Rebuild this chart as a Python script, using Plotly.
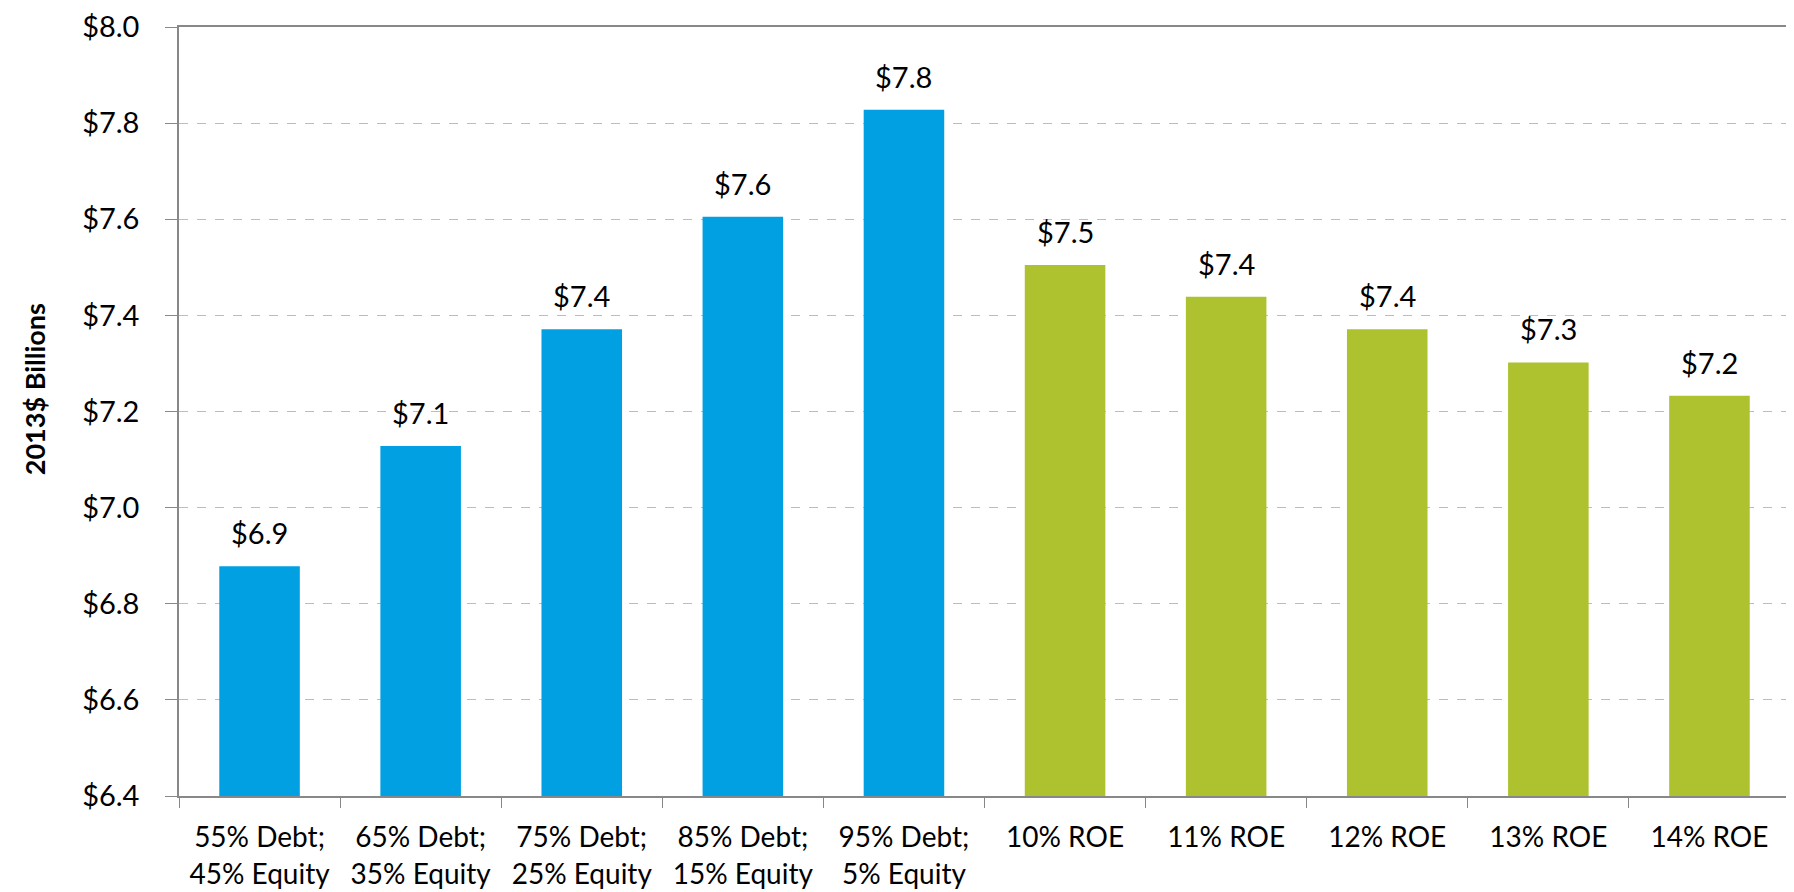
import plotly.graph_objects as go

categories = ["55% Debt;<br>45% Equity", "65% Debt;<br>35% Equity", "75% Debt;<br>25% Equity",
              "85% Debt;<br>15% Equity", "95% Debt;<br>5% Equity",
              "10% ROE", "11% ROE", "12% ROE", "13% ROE", "14% ROE"]
values = [6.878, 7.128, 7.371, 7.605, 7.828, 7.505, 7.439, 7.371, 7.302, 7.233]
colors = ["#00A0E2"] * 5 + ["#ADC22E"] * 5
y_ticks = [6.4, 6.6, 6.8, 7.0, 7.2, 7.4, 7.6, 7.8, 8.0]
y_ticktext = ["$%.1f" % v for v in y_ticks]

FONT = "Lato, 'Open Sans', sans-serif"

fig = go.Figure(go.Bar(
    x=categories, y=values,
    marker=dict(color=colors, line=dict(width=0)),
    hoverinfo="y",
))

for c, v in zip(categories, values):
    fig.add_annotation(x=c, y=v, text="$%.1f" % v, showarrow=False,
                       yanchor="bottom", yshift=14,
                       font=dict(size=29, color="#000000", family=FONT))

fig.add_annotation(xref="paper", yref="paper", x=-0.09, y=0.529,
                   xanchor="center", yanchor="middle",
                   text="<b>2013$ Billions</b>", textangle=-90, showarrow=False,
                   font=dict(size=27, color="#000000", family=FONT))

fig.update_layout(
    width=1786, height=884,
    margin=dict(l=171, r=4, t=19, b=96),
    plot_bgcolor="white", paper_bgcolor="white",
    bargap=0.5, showlegend=False,
    font=dict(family=FONT, color="#000000"),
)
fig.update_yaxes(
    range=[6.4, 8.0], tickvals=y_ticks, ticktext=y_ticktext,
    tickfont=dict(size=29), ticks="outside", ticklen=12, tickcolor="#888888",
    ticklabelstandoff=20, automargin=False, ticklabeloverflow="allow",
    showline=True, linecolor="#888888", linewidth=1.5, mirror=True,
    showgrid=True, gridcolor="#BDBDBD", griddash="dash", gridwidth=1,
    zeroline=False,
)
fig.update_xaxes(
    tickfont=dict(size=28), ticks="outside", ticklen=10, tickcolor="#888888",
    tickson="boundaries", ticklabelstandoff=16, automargin=False,
    ticklabeloverflow="allow",
    showline=True, linecolor="#888888", linewidth=1.5, mirror=True,
    showgrid=False,
)

fig.write_html("out.html")
